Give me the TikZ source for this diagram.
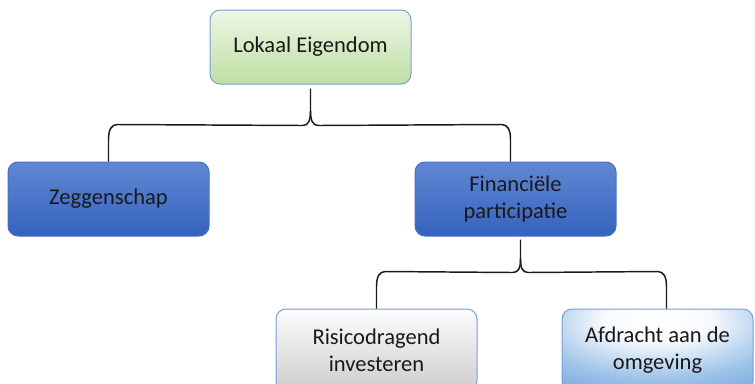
\documentclass[tikz,border=0pt]{standalone}
\usepackage{fontspec}
\setmainfont{Carlito}
\usetikzlibrary{calc}
\definecolor{greentop}{RGB}{238,247,230}
\definecolor{greenbot}{RGB}{190,222,163}
\definecolor{lightborder}{RGB}{120,158,214}
\definecolor{bluetop}{RGB}{96,135,210}
\definecolor{bluebot}{RGB}{52,98,190}
\definecolor{blueborder}{RGB}{70,112,196}
\definecolor{greytop}{RGB}{252,252,252}
\definecolor{greybot}{RGB}{205,205,205}
\definecolor{skyout}{RGB}{88,146,212}
\definecolor{skymid}{RGB}{160,196,234}
\pgfdeclareradialshading{skyshade}{\pgfpoint{0bp}{22bp}}{color(0bp)=(white); color(14bp)=(white!92!skymid); color(32bp)=(skymid); color(55bp)=(skyout); color(100bp)=(skyout)}
\begin{document}
\begin{tikzpicture}[x=0.75pt,y=-0.75pt,
  box/.style={rectangle, rounded corners=7.5pt, line width=0.75pt, align=center,
    minimum width=150.75pt, minimum height=55.5pt, inner sep=0pt,
    font=\fontsize{16.9}{20.5}\selectfont, text=black!90},
  greenbox/.style={box, draw=lightborder, top color=greentop, bottom color=greenbot},
  bluebox/.style={box, draw=blueborder, top color=bluetop, bottom color=bluebot},
  greybox/.style={box, draw=lightborder, top color=greytop, bottom color=greybot, minimum height=61.5pt},
  skybox/.style={box, draw=lightborder, shading=skyshade, minimum height=61.5pt, minimum width=143.25pt},
  brace/.style={draw=black!90, line width=1.1pt}]
\useasboundingbox (0,0) rectangle (755,383);
\node[greenbox] (top) at (310.5,47) {Lokaal Eigendom};
\node[bluebox] (z) at (108.5,199) {Zeggenschap};
\node[bluebox] (f) at (515.5,199) {Financiële\\participatie};
\node[greybox] (r) at (376.5,350) {Risicodragend\\investeren};
\node[skybox] (a) at (657.5,350) {Afdracht aan de\\omgeving};
% upper brace
\draw[brace] (z.north) -- ++(0,-22) .. controls +(0,-10) and +(-6,0) .. ++(9,-15)
  -- ($(top.south)+(-8,41)$) .. controls +(6,0) and +(0,10) .. ($(top.south)+(0,26)$)
  -- ($(top.south)+(0,4)$);
\draw[brace] ($(f.north)+(-5,0)$) -- ++(0,-22) .. controls +(0,-10) and +(6,0) .. ++(-9,-15)
  -- ($(top.south)+(8,41)$) .. controls +(-6,0) and +(0,10) .. ($(top.south)+(0,26)$);
% lower brace
\draw[brace] (r.north) -- ++(0,-22) .. controls +(0,-10) and +(-6,0) .. ++(9,-15)
  -- ($(f.south)+(-3,36)$) .. controls +(6,0) and +(0,10) .. ($(f.south)+(5,22)$)
  -- ($(f.south)+(5,3)$);
\draw[brace] ($(a.north)+(9,0)$) -- ++(0,-22) .. controls +(0,-10) and +(6,0) .. ++(-9,-15)
  -- ($(f.south)+(13,36)$) .. controls +(-6,0) and +(0,10) .. ($(f.south)+(5,22)$);
\end{tikzpicture}
\end{document}
